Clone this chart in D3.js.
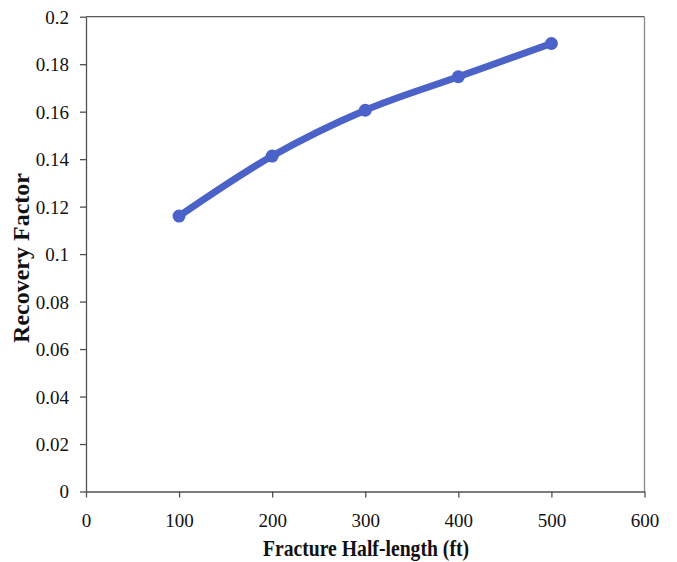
<!DOCTYPE html>
<html><head><meta charset="utf-8">
<script src="https://cdn.jsdelivr.net/npm/d3@7"></script>
<style>
html,body{margin:0;padding:0;background:#fff;}
svg{display:block;}
text{font-family:'Liberation Serif','Times New Roman',serif;}
</style></head>
<body>
<svg id="chart" width="677" height="562"></svg>
<script>
const halfLengths = [100, 200, 300, 400, 500];
const recoveryFactor = [0.116, 0.1413, 0.1606, 0.1747, 0.1887];
const xTicks = [0, 100, 200, 300, 400, 500, 600];
const yTicks = [0, 0.02, 0.04, 0.06, 0.08, 0.1, 0.12, 0.14, 0.16, 0.18, 0.2];
const xTitle = "Fracture Half-length (ft)";
const yTitle = "Recovery Factor";

const svg = d3.select("#chart");
const L = 86, R = 644.5, T = 16.7, B = 491.5;
const x = d3.scaleLinear().domain([0, 600]).range([L, R]);
const y = d3.scaleLinear().domain([0, 0.2]).range([B, T]);
const font = "'Liberation Serif','Times New Roman',serif";

// frame (top & right)
svg.append("line").attr("x1", L).attr("x2", R).attr("y1", T).attr("y2", T)
  .attr("stroke", "#5a5a5a").attr("stroke-width", 1.3);
svg.append("line").attr("x1", R).attr("x2", R).attr("y1", T).attr("y2", B)
  .attr("stroke", "#8a8a8a").attr("stroke-width", 1.3);

const xAxis = svg.append("g").attr("transform", `translate(0,${B})`)
  .call(d3.axisBottom(x).tickValues(xTicks).tickSize(6).tickSizeOuter(0).tickFormat(d3.format("d")));
const yAxis = svg.append("g").attr("transform", `translate(${L},0)`)
  .call(d3.axisLeft(y).tickValues(yTicks).tickSize(6).tickSizeOuter(0).tickFormat(d => d === 0 ? "0" : String(+d.toFixed(2))));

[xAxis, yAxis].forEach(g => {
  g.attr("font-family", font).attr("font-size", 19);
  g.select(".domain").attr("stroke", "#505050").attr("stroke-width", 1.3);
  g.selectAll(".tick line").attr("stroke", "#505050").attr("stroke-width", 1.3);
  g.selectAll(".tick text").style("font-family", font).style("font-size", "19px").attr("fill", "#111");
});
xAxis.selectAll(".tick text").attr("dy", null).attr("y", 35);
yAxis.selectAll(".tick text").attr("x", -17).attr("dy", "0.34em");

// titles
svg.append("text").attr("transform", "translate(366,556) scale(0.82,1)").attr("text-anchor", "middle")
  .style("font-family", font).attr("font-weight", "bold").attr("font-size", 24).attr("fill", "#111")
  .text(xTitle);
svg.append("text").attr("transform", "translate(29,258) rotate(-90)").attr("text-anchor", "middle")
  .style("font-family", font).attr("font-weight", "bold").attr("font-size", 24).attr("fill", "#111")
  .text(yTitle);

const data = halfLengths.map((h, i) => [h, recoveryFactor[i]]);
const color = "#4b62c9";
svg.append("path").datum(data)
  .attr("d", d3.line().x(d => x(d[0])).y(d => y(d[1])).curve(d3.curveCatmullRom.alpha(0.5)))
  .attr("fill", "none").attr("stroke", color).attr("stroke-width", 7).attr("stroke-linecap", "round");
svg.selectAll("circle.pt").data(data).enter().append("circle").attr("class", "pt")
  .attr("cx", d => x(d[0])).attr("cy", d => y(d[1])).attr("r", 6.5).attr("fill", color);
</script>
</body></html>
